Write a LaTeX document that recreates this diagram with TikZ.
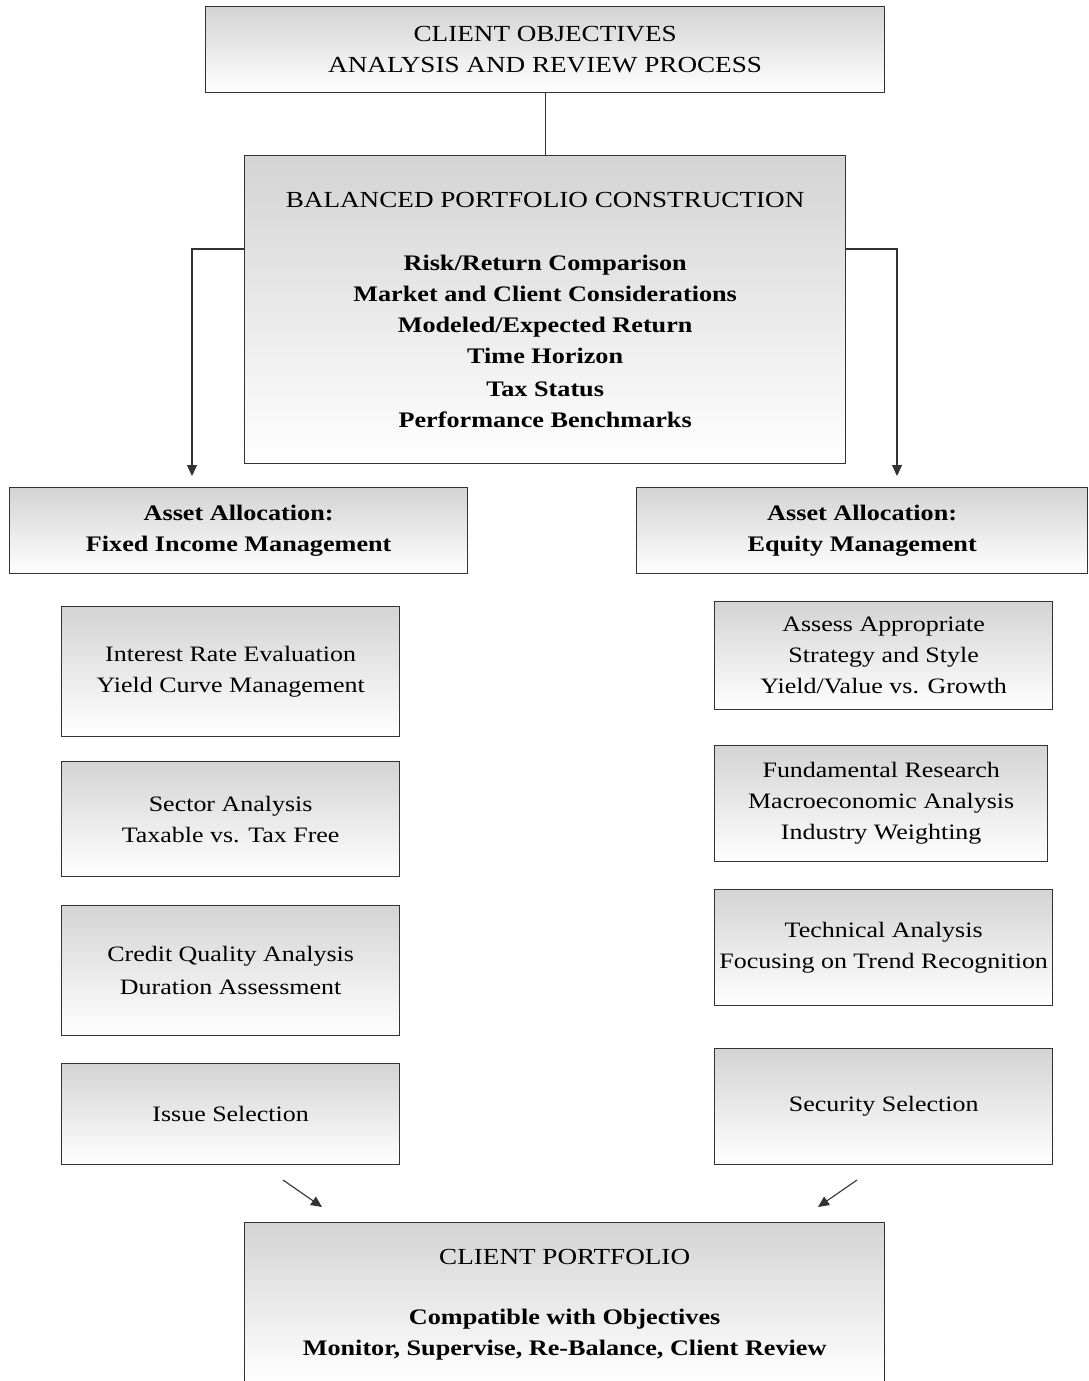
\documentclass[tikz,border=0pt]{standalone}
\usepackage{fontspec}
\setmainfont[FakeStretch=1.18]{Liberation Serif}
\usetikzlibrary{arrows.meta}
\begin{document}
\begin{tikzpicture}[x=1pt,y=1pt,
  box/.style={draw=black!80, line width=1.3pt, top color=black!17, bottom color=white,
    anchor=north west, align=center, inner sep=0pt},
  hd/.style={font=\fontsize{23}{31}\selectfont},
  bd/.style={font=\fontsize{22.2}{31}\selectfont\bfseries},
  sm/.style={font=\fontsize{22}{31}\selectfont},
  arr/.style={draw=black!80, line width=1.3pt, -{Triangle[length=11pt,width=10pt]}},
  ln/.style={draw=black!80, line width=1.3pt}]
\useasboundingbox (0,0) rectangle (1088,-1381);
\node[box, hd, minimum width=679, minimum height=86] (top) at (205,-6)
  {CLIENT OBJECTIVES\\ANALYSIS AND REVIEW PROCESS};
\node[box, hd, minimum width=601, minimum height=308] (bal) at (244,-155)
  {BALANCED PORTFOLIO CONSTRUCTION\\[32pt]
   {\fontsize{22.2}{31}\selectfont\bfseries Risk/Return Comparison}\\
   {\fontsize{22.2}{31}\selectfont\bfseries Market and Client Considerations}\\
   {\fontsize{22.2}{31}\selectfont\bfseries Modeled/Expected Return}\\
   {\fontsize{22.2}{31}\selectfont\bfseries Time Horizon}\\[2pt]
   {\fontsize{22.2}{31}\selectfont\bfseries Tax Status}\\
   {\fontsize{22.2}{31}\selectfont\bfseries Performance Benchmarks}};
\node[box, bd, minimum width=458, minimum height=86] (laa) at (9,-487)
  {Asset Allocation:\\Fixed Income Management};
\node[box, bd, minimum width=451, minimum height=86] (raa) at (636,-487)
  {Asset Allocation:\\Equity Management};
% left column
\node[box, sm, minimum width=338, minimum height=130] (l1) at (61,-606)
  {Interest Rate Evaluation\\Yield Curve Management};
\node[box, sm, minimum width=338, minimum height=115] (l2) at (61,-761)
  {Sector Analysis\\Taxable vs. Tax Free};
\node[box, sm, minimum width=338, minimum height=130] (l3) at (61,-905)
  {Credit Quality Analysis\\[2pt]Duration Assessment};
\node[box, sm, minimum width=338, minimum height=101] (l4) at (61,-1063)
  {Issue Selection};
% right column
\node[box, sm, minimum width=338, minimum height=108] (r1) at (714,-601)
  {Assess Appropriate\\Strategy and Style\\Yield/Value vs. Growth};
\node[box, sm, minimum width=333, minimum height=116] (r2) at (714,-745)
  {Fundamental Research\\Macroeconomic Analysis\\Industry Weighting};
\node[box, sm, minimum width=338, minimum height=116] (r3) at (714,-889)
  {Technical Analysis\\Focusing on Trend Recognition};
\node[box, sm, minimum width=338, minimum height=116] (r4) at (714,-1048)
  {Security Selection};
% bottom
\node[box, hd, minimum width=640, minimum height=159, text depth=-8pt] (cp) at (244,-1222)
  {CLIENT PORTFOLIO\\[29pt]
   {\fontsize{22.2}{31}\selectfont\bfseries Compatible with Objectives}\\
   {\fontsize{22.2}{31}\selectfont\bfseries Monitor, Supervise, Re-Balance, Client Review}};
% connectors
\coordinate (la) at (192,-476);
\coordinate (ra) at (897,-476);
\coordinate (d1s) at (283,-1180);
\coordinate (d1e) at (322,-1207);
\coordinate (d2s) at (857,-1180);
\coordinate (d2e) at (818,-1207);
\draw[ln] (top.south) -- (bal.north);
\draw[arr] ([yshift=-94pt]bal.north west) -| (la);
\draw[arr] ([yshift=-94pt]bal.north east) -| (ra);
\draw[arr, line width=1.1pt] (d1s) -- (d1e);
\draw[arr, line width=1.1pt] (d2s) -- (d2e);
\end{tikzpicture}
\end{document}
